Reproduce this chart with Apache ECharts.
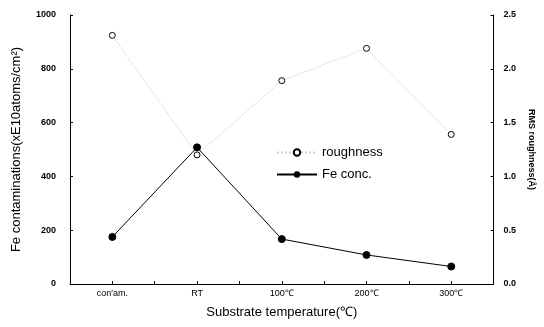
<!DOCTYPE html>
<html><head><meta charset="utf-8">
<script src="https://cdn.jsdelivr.net/npm/echarts@6/dist/echarts.min.js"></script>
<style>html,body{margin:0;padding:0;background:#fff}#c{width:544px;height:327px}</style>
</head><body><div id="c"></div>
<script>
var categories = ["con'am.", "RT", "100\u2103", "200\u2103", "300\u2103"];
var feConc = [175, 508, 167, 108, 65];
var roughness = [2.31, 1.20, 1.89, 2.19, 1.39];
var leftTicks = [0, 200, 400, 600, 800, 1000];
var rightTicks = [0.0, 0.5, 1.0, 1.5, 2.0, 2.5];

var chart = echarts.init(document.getElementById('c'), null, {renderer: 'canvas'});
var font = 'Liberation Sans, Arial, sans-serif';
chart.setOption({
  animation: false,
  backgroundColor: '#fff',
  grid: {left: 70, right: 49, top: 15, bottom: 43},
  legend: {
    orient: 'vertical', left: 271, top: 141, itemGap: 9, itemWidth: 40, itemHeight: 8,
    textStyle: {fontFamily: font, fontSize: 13, color: '#000'},
    data: ['roughness', 'Fe conc.']
  },
  xAxis: {
    type: 'value', min: -0.5, max: 4.5, interval: 0.5,
    name: 'Substrate temperature(\u2103)', nameLocation: 'middle', nameGap: 22,
    nameTextStyle: {fontFamily: font, fontSize: 13, color: '#000'},
    axisLine: {show: true, onZero: false, lineStyle: {color: '#000', width: 1}},
    axisTick: {show: true, inside: true, length: 3, lineStyle: {color: '#000'}},
    splitLine: {show: false},
    axisLabel: {fontFamily: font, fontSize: 9, color: '#000', margin: 5,
      formatter: function (v) { return Number.isInteger(v) ? categories[v] : ''; }}
  },
  yAxis: [
    {
      type: 'value', min: leftTicks[0], max: leftTicks[leftTicks.length - 1], interval: 200,
      name: 'Fe contaminations(xE10atoms/cm\u00b2)', nameLocation: 'middle', nameGap: 47,
      nameTextStyle: {fontFamily: font, fontSize: 13, color: '#000'},
      axisLine: {show: true, onZero: false, lineStyle: {color: '#000', width: 1}},
      axisTick: {show: true, inside: true, length: 3, lineStyle: {color: '#000'}},
      splitLine: {show: false},
      axisLabel: {fontFamily: font, fontSize: 9, fontWeight: 'bold', color: '#000', margin: 14,
        formatter: function (v) { return String(v); }}
    },
    {
      type: 'value', position: 'right', min: rightTicks[0], max: rightTicks[rightTicks.length - 1], interval: 0.5,
      name: 'RMS roughness(\u00c5)', nameLocation: 'middle', nameGap: 28, nameRotate: -90,
      nameTextStyle: {fontFamily: font, fontSize: 9, fontWeight: 'bold', color: '#000'},
      axisLine: {show: true, onZero: false, lineStyle: {color: '#000', width: 1}},
      axisTick: {show: true, inside: true, length: 3, lineStyle: {color: '#000'}},
      splitLine: {show: false},
      axisLabel: {fontFamily: font, fontSize: 9, fontWeight: 'bold', color: '#000', margin: 10,
        formatter: function (v) { return v.toFixed(1); }}
    }
  ],
  series: [
    {
      name: 'roughness', type: 'line', yAxisIndex: 1,
      data: roughness.map(function (v, i) { return [i, v]; }),
      symbol: 'circle', symbolSize: 6,
      itemStyle: {color: '#fff', borderColor: '#000', borderWidth: 1},
      lineStyle: {color: '#d0d0d0', width: 1, type: 'dotted'},
      z: 3
    },
    {
      name: 'Fe conc.', type: 'line', yAxisIndex: 0,
      data: feConc.map(function (v, i) { return [i, v]; }),
      symbol: 'circle', symbolSize: 7,
      itemStyle: {color: '#000', borderColor: '#000'},
      lineStyle: {color: '#000', width: 1},
      z: 4
    }
  ]
});
</script></body></html>
